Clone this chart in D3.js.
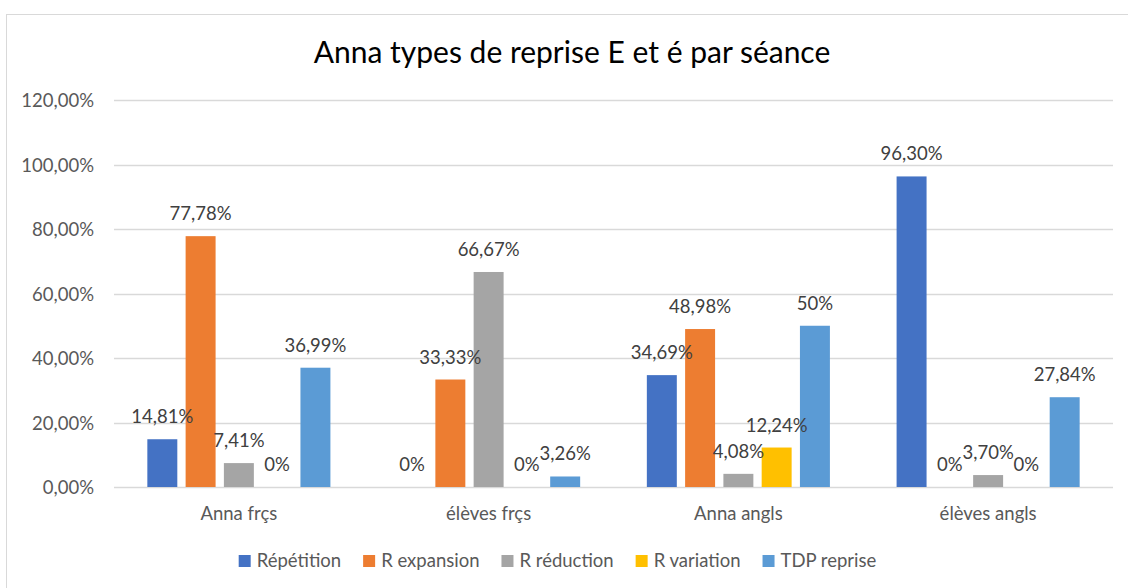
<!DOCTYPE html>
<html><head><meta charset="utf-8">
<script src="https://cdn.jsdelivr.net/npm/d3@7"></script>
<style>body{margin:0;background:#fff;} text{font-family:Lato, "Open Sans", sans-serif;}</style>
</head><body><svg id="c" width="1128" height="588"></svg>
<script>
const categories = ["Anna frçs","élèves frçs","Anna angls","élèves angls"];
const seriesNames = ["Répétition","R expansion","R réduction","R variation","TDP reprise"];
const repetition = [14.81, 0, 34.69, 96.30];
const rExpansion = [77.78, 33.33, 48.98, 0];
const rReduction = [7.41, 66.67, 4.08, 3.70];
const rVariation = [0, 0, 12.24, 0];
const tdpReprise = [36.99, 3.26, 50, 27.84];
const yTicks = [0,20,40,60,80,100,120];
const colors = ["#4472C4","#ED7D31","#A5A5A5","#FFC000","#5B9BD5"];
const title = "Anna types de reprise E et é par séance";

const seriesValues = [repetition, rExpansion, rReduction, rVariation, tdpReprise];
const svg = d3.select("#c");

svg.append("rect").attr("x",6.5).attr("y",14.5).attr("width",1140).attr("height",600)
  .attr("fill","#fff").attr("stroke","#d9d9d9").attr("stroke-width",1);

const left = 114, right = 1113, y0 = 487, yTop = 100;
const y = d3.scaleLinear().domain([0,120]).range([y0, yTop]);
const x0 = d3.scaleBand().domain(categories).range([left,right]).paddingInner(0.267).paddingOuter(0.1335);
const x1 = d3.scaleBand().domain(seriesNames).range([0, x0.bandwidth()]).paddingInner(0.217).paddingOuter(0);

svg.append("text").attr("x",572).attr("y",63).attr("text-anchor","middle")
  .attr("font-size",30).attr("fill","#000").text(title);

// grid
const g = svg.append("g");
g.selectAll("line.grid").data(yTicks).join("line")
  .attr("x1",left).attr("x2",right)
  .attr("y1",d=>Math.round(y(d))+0.5).attr("y2",d=>Math.round(y(d))+0.5)
  .attr("stroke","#d9d9d9").attr("stroke-width",1.3);

const fmtTick = v => v.toFixed(2).replace(".",",") + "%";
g.selectAll("text.tick").data(yTicks).join("text")
  .attr("x",94).attr("y",d=>y(d)+7).attr("text-anchor","end")
  .attr("font-size",18.5).attr("fill","#595959").text(fmtTick);

// bars
const fmtLabel = v => Number.isInteger(v) ? v + "%" : v.toFixed(2).replace(".",",") + "%";
const flat = [];
categories.forEach((c,ci)=>seriesNames.forEach((s,si)=>flat.push({c, s, si, v: seriesValues[si][ci]})));
svg.append("g").selectAll("rect").data(flat).join("rect")
  .attr("x",d=>x0(d.c)+x1(d.s)).attr("width",x1.bandwidth())
  .attr("y",d=>y(d.v)).attr("height",d=>y0 - y(d.v))
  .attr("fill",d=>colors[d.si]);

svg.append("g").selectAll("text").data(flat).join("text")
  .attr("x",d=>x0(d.c)+x1(d.s)+x1.bandwidth()/2).attr("y",d=>y(d.v)-16)
  .attr("text-anchor","middle").attr("font-size",18.5).attr("fill","#404040")
  .text(d=>fmtLabel(d.v));

// category labels
svg.append("g").selectAll("text").data(categories).join("text")
  .attr("x",d=>x0(d)+x0.bandwidth()/2).attr("y",520).attr("text-anchor","middle")
  .attr("font-size",18.5).attr("fill","#595959").text(d=>d);

// legend
const lg = svg.append("g");
const items = lg.selectAll("g").data(seriesNames).join("g");
items.append("rect").attr("width",12).attr("height",12).attr("y",555).attr("fill",(d,i)=>colors[i]);
items.append("text").attr("x",18).attr("y",567).attr("font-size",18.5).attr("fill","#595959").text(d=>d);
const gap = 22;
let xs = 0; const pos = [];
items.each(function(d){ const w = d3.select(this).select("text").node().getComputedTextLength(); pos.push(xs); xs += 18 + w + gap; });
const total = xs - gap;
const start = 557.5 - total/2;
items.attr("transform",(d,i)=>`translate(${start+pos[i]},0)`);
</script></body></html>
